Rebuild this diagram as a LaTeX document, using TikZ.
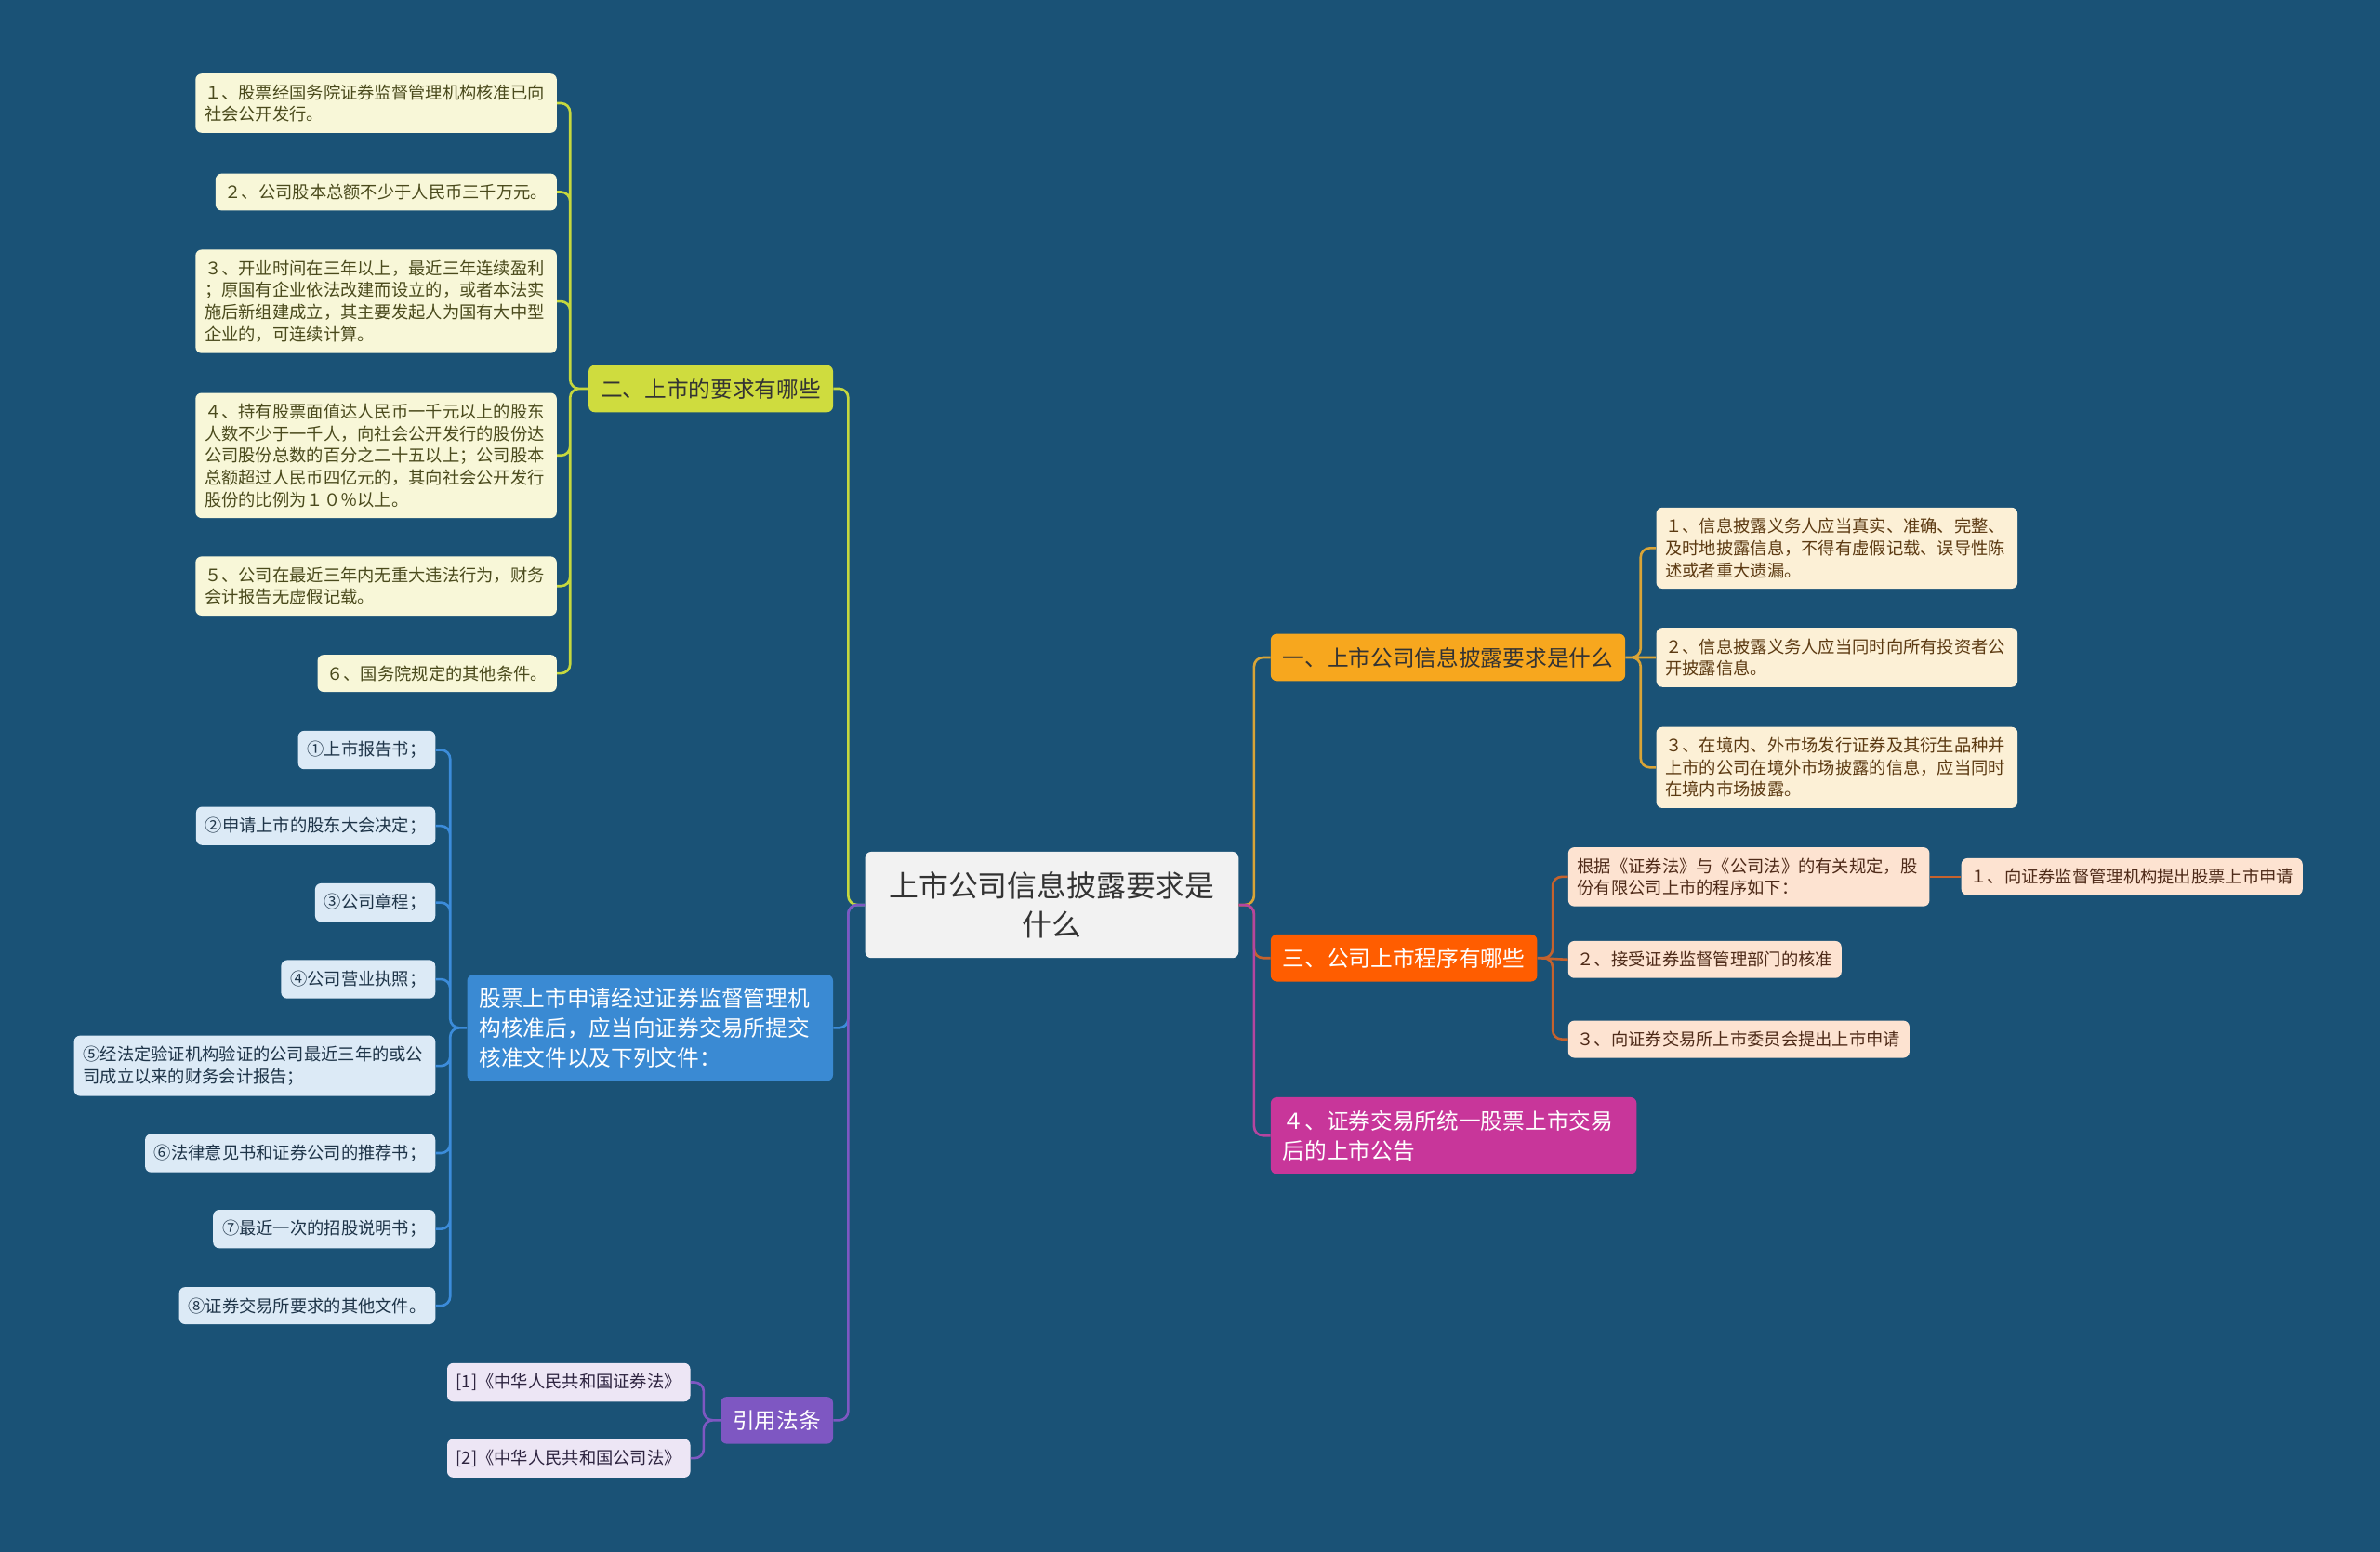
\documentclass[tikz,border=0pt]{standalone}
\usepackage{fontspec}
\setmainfont{Noto Sans CJK SC}
\usepackage{tikz}
\usetikzlibrary{positioning}
\usepackage{xcolor}
\definecolor{bgblue}{HTML}{1A5276}
\definecolor{rootfill}{HTML}{F2F2F2}
\definecolor{limefill}{HTML}{CFDC3E}
\definecolor{limeline}{HTML}{C6D83E}
\definecolor{limeleaf}{HTML}{F8F7D8}
\definecolor{limetext}{HTML}{4A4A1C}
\definecolor{bluefill}{HTML}{3A8AD3}
\definecolor{blueline}{HTML}{3C8CDA}
\definecolor{blueleaf}{HTML}{DCEAF6}
\definecolor{bluetext}{HTML}{1E3448}
\definecolor{purpfill}{HTML}{7E57C2}
\definecolor{purpline}{HTML}{7E57C2}
\definecolor{purpleaf}{HTML}{EDE6F5}
\definecolor{purptext}{HTML}{2E2440}
\definecolor{goldfill}{HTML}{F7A71E}
\definecolor{goldline}{HTML}{D9A437}
\definecolor{goldleaf}{HTML}{FCF0D6}
\definecolor{goldtext}{HTML}{5C3A12}
\definecolor{rustfill}{HTML}{FF5D00}
\definecolor{rustline}{HTML}{C5622D}
\definecolor{rustleaf}{HTML}{FDE3D1}
\definecolor{rusttext}{HTML}{4E2A18}
\definecolor{magfill}{HTML}{C8369A}
\definecolor{magline}{HTML}{B545A0}

\begin{document}
\begin{tikzpicture}[x=1pt,y=-1pt,
  root/.style={fill=rootfill,text=black!80,rounded corners=4pt,align=center,
    minimum width=246pt,minimum height=70pt,font=\fontsize{19.5}{26}\selectfont},
  topic/.style={rounded corners=4pt,inner xsep=8pt,inner ysep=8.75pt,align=left,
    font=\fontsize{14.5}{19.5}\selectfont},
  leaf/.style={rounded corners=4pt,inner xsep=6pt,inner ysep=7pt,align=left,
    font=\fontsize{11.2}{14.5}\selectfont},
  widebox/.style={text width=226pt},
  widetopic/.style={text width=225pt},
  conn/.style={line width=1.6pt,rounded corners=6pt}]
\fill[bgblue] (0,0) rectangle (1568,1022);

\node[root] (root) at (693,596) {上市公司信息披露要求是\\什么};

\node[topic,fill=limefill,text=black!80,anchor=east] (two) at (549,256) {二、上市的要求有哪些};
\node[topic,widetopic,fill=bluefill,text=white,anchor=east] (docs) at (549,677) {股票上市申请经过证券监督管理机\\构核准后，应当向证券交易所提交\\核准文件以及下列文件：};
\node[topic,fill=purpfill,text=white,anchor=east] (law) at (549,935.5) {引用法条};
\node[topic,fill=goldfill,text=black!80,anchor=west] (one) at (837,433) {一、上市公司信息披露要求是什么};
\node[topic,fill=rustfill,text=white,anchor=west] (three) at (837,631) {三、公司上市程序有哪些};
\node[topic,widetopic,fill=magfill,text=white,anchor=west] (four) at (837,748) {４、证券交易所统一股票上市交易\\后的上市公告};

\node[leaf,widebox,fill=limeleaf,text=limetext,anchor=east] (req1) at (367,68) {１、股票经国务院证券监督管理机构核准已向\\社会公开发行。};
\node[leaf,fill=limeleaf,text=limetext,anchor=east] (req2) at (367,126.5) {２、公司股本总额不少于人民币三千万元。};
\node[leaf,widebox,fill=limeleaf,text=limetext,anchor=east] (req3) at (367,198.5) {３、开业时间在三年以上，最近三年连续盈利\\；原国有企业依法改建而设立的，或者本法实\\施后新组建成立，其主要发起人为国有大中型\\企业的，可连续计算。};
\node[leaf,widebox,fill=limeleaf,text=limetext,anchor=east] (req4) at (367,300) {４、持有股票面值达人民币一千元以上的股东\\人数不少于一千人，向社会公开发行的股份达\\公司股份总数的百分之二十五以上；公司股本\\总额超过人民币四亿元的，其向社会公开发行\\股份的比例为１０％以上。};
\node[leaf,widebox,fill=limeleaf,text=limetext,anchor=east] (req5) at (367,386) {５、公司在最近三年内无重大违法行为，财务\\会计报告无虚假记载。};
\node[leaf,fill=limeleaf,text=limetext,anchor=east] (req6) at (367,443.5) {６、国务院规定的其他条件。};

\node[leaf,fill=blueleaf,text=bluetext,anchor=east] (doc1) at (287,494) {①上市报告书；};
\node[leaf,fill=blueleaf,text=bluetext,anchor=east] (doc2) at (287,544) {②申请上市的股东大会决定；};
\node[leaf,fill=blueleaf,text=bluetext,anchor=east] (doc3) at (287,594.5) {③公司章程；};
\node[leaf,fill=blueleaf,text=bluetext,anchor=east] (doc4) at (287,645) {④公司营业执照；};
\node[leaf,widebox,fill=blueleaf,text=bluetext,anchor=east] (doc5) at (287,702) {⑤经法定验证机构验证的公司最近三年的或公\\司成立以来的财务会计报告；};
\node[leaf,fill=blueleaf,text=bluetext,anchor=east] (doc6) at (287,759.5) {⑥法律意见书和证券公司的推荐书；};
\node[leaf,fill=blueleaf,text=bluetext,anchor=east] (doc7) at (287,809.5) {⑦最近一次的招股说明书；};
\node[leaf,fill=blueleaf,text=bluetext,anchor=east] (doc8) at (287,860) {⑧证券交易所要求的其他文件。};

\node[leaf,fill=purpleaf,text=purptext,anchor=east] (law1) at (455,910.5) {[1]《中华人民共和国证券法》};
\node[leaf,fill=purpleaf,text=purptext,anchor=east] (law2) at (455,960.5) {[2]《中华人民共和国公司法》};

\node[leaf,widebox,fill=goldleaf,text=goldtext,anchor=west] (dis1) at (1091,361) {１、信息披露义务人应当真实、准确、完整、\\及时地披露信息，不得有虚假记载、误导性陈\\述或者重大遗漏。};
\node[leaf,widebox,fill=goldleaf,text=goldtext,anchor=west] (dis2) at (1091,433) {２、信息披露义务人应当同时向所有投资者公\\开披露信息。};
\node[leaf,widebox,fill=goldleaf,text=goldtext,anchor=west] (dis3) at (1091,505.5) {３、在境内、外市场发行证券及其衍生品种并\\上市的公司在境外市场披露的信息，应当同时\\在境内市场披露。};

\node[leaf,widebox,fill=rustleaf,text=rusttext,anchor=west] (proc1) at (1033,577.5) {根据《证券法》与《公司法》的有关规定，股\\份有限公司上市的程序如下：};
\node[leaf,fill=rustleaf,text=rusttext,anchor=west] (proc1a) at (1292,577.5) {１、向证券监督管理机构提出股票上市申请};
\node[leaf,fill=rustleaf,text=rusttext,anchor=west] (proc2) at (1033,632) {２、接受证券监督管理部门的核准};
\node[leaf,fill=rustleaf,text=rusttext,anchor=west] (proc3) at (1033,684.5) {３、向证券交易所上市委员会提出上市申请};

\draw[conn,limeline] (root.west) -- ++(-11,0) |- (two.east);
\draw[conn,blueline] (root.west) -- ++(-11,0) |- (docs.east);
\draw[conn,purpline] (root.west) -- ++(-11,0) |- (law.east);
\draw[conn,goldline] (root.east) -- ++(10,0) |- (one.west);
\draw[conn,rustline] (root.east) -- ++(10,0) |- (three.west);
\draw[conn,magline] (root.east) -- ++(10,0) |- (four.west);

\draw[conn,limeline] (two.west) -- ++(-12,0) |- (req1.east)
  (two.west) -- ++(-12,0) |- (req2.east)
  (two.west) -- ++(-12,0) |- (req3.east)
  (two.west) -- ++(-12,0) |- (req4.east)
  (two.west) -- ++(-12,0) |- (req5.east)
  (two.west) -- ++(-12,0) |- (req6.east);
\draw[conn,blueline] (docs.west) -- ++(-11,0) |- (doc1.east)
  (docs.west) -- ++(-11,0) |- (doc2.east)
  (docs.west) -- ++(-11,0) |- (doc3.east)
  (docs.west) -- ++(-11,0) |- (doc4.east)
  (docs.west) -- ++(-11,0) |- (doc5.east)
  (docs.west) -- ++(-11,0) |- (doc6.east)
  (docs.west) -- ++(-11,0) |- (doc7.east)
  (docs.west) -- ++(-11,0) |- (doc8.east);
\draw[conn,purpline] (law.west) -- ++(-11,0) |- (law1.east)
  (law.west) -- ++(-11,0) |- (law2.east);
\draw[conn,goldline] (one.east) -- ++(10,0) |- (dis1.west)
  (one.east) -- (dis2.west)
  (one.east) -- ++(10,0) |- (dis3.west);
\draw[conn,rustline] (three.east) -- ++(10,0) |- (proc1.west)
  (three.east) -- (proc2.west)
  (three.east) -- ++(10,0) |- (proc3.west);
\draw[conn,rustline] (proc1.east) -- (proc1a.west);
\end{tikzpicture}
\end{document}
